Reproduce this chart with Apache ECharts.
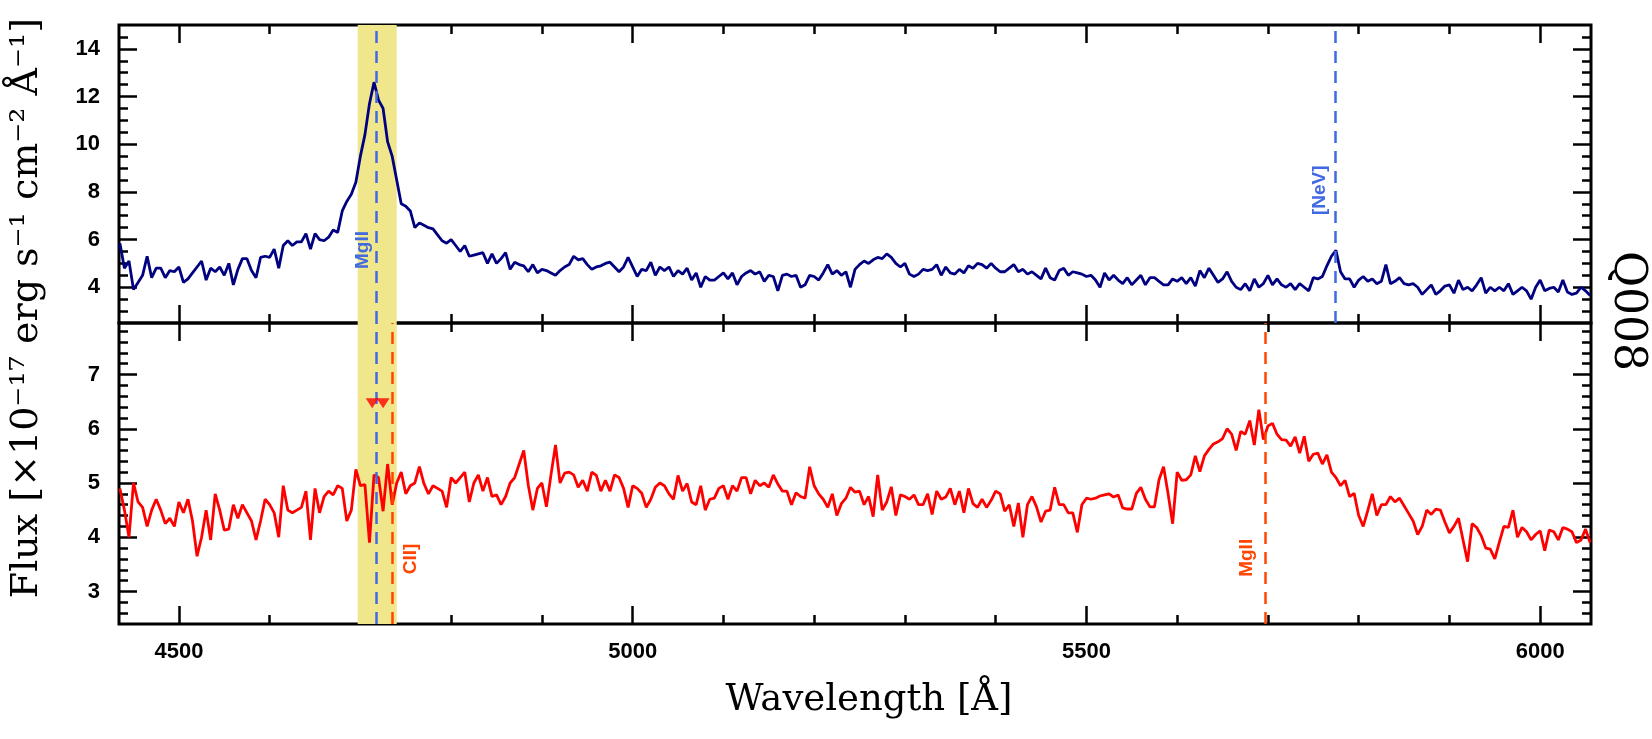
<!DOCTYPE html>
<html>
<head>
<meta charset="utf-8">
<title>Q008</title>
<script src="https://cdn.jsdelivr.net/npm/echarts@6/dist/echarts.min.js"></script>
<style>
  html, body { margin: 0; padding: 0; background: #fff; }
  #chart { width: 1652px; height: 739px; }
</style>
</head>
<body>
<div id="chart"></div>
<script>
// wavelength grid shared by both spectra (Å)
const waveStart = 4435
const waveStep = 5

// upper spectrum (navy), one value per 5 Å from 4435 Å
const fluxUpper = [
  5.84, 4.8, 5.1, 3.9, 4.2, 4.5, 5.3, 4.4, 4.8, 4.8,
  4.4, 4.7, 4.65, 4.85, 4.2, 4.35, 4.6, 4.85, 5.1, 4.3,
  4.8, 4.65, 4.85, 4.5, 5.0, 4.1, 4.75, 5.2, 5.2, 4.7,
  4.4, 5.25, 5.3, 5.25, 5.6, 4.8, 5.75, 5.95, 5.75, 5.9,
  5.9, 6.25, 5.6, 6.25, 6.0, 5.95, 6.1, 6.4, 6.3, 7.2,
  7.6, 7.9, 8.4, 9.5, 10.4, 11.7, 12.6, 11.85, 11.5, 10.1,
  9.5, 8.5, 7.5, 7.4, 7.2, 6.5, 6.7, 6.6, 6.5, 6.45,
  6.2, 5.95, 5.85, 6.0, 5.75, 5.5, 5.75, 5.3, 5.35, 5.4,
  5.45, 5.0, 5.4, 5.0, 5.2, 5.45, 4.75, 5.05, 4.95, 4.9,
  4.65, 4.95, 4.6, 4.75, 4.7, 4.6, 4.5, 4.7, 4.85, 4.95,
  5.3, 5.15, 5.2, 4.95, 4.75, 4.85, 4.9, 5.0, 5.05, 4.85,
  4.65, 4.85, 5.25, 4.85, 4.45, 4.75, 4.7, 5.05, 4.5, 4.85,
  4.7, 4.85, 4.45, 4.7, 4.55, 4.8, 4.3, 4.6, 4.0, 4.45,
  4.3, 4.3, 4.45, 4.6, 4.35, 4.6, 4.1, 4.45, 4.6, 4.7,
  4.55, 4.65, 4.25, 4.5, 4.45, 3.85, 4.5, 4.55, 4.45, 4.5,
  4.0, 4.1, 4.5, 4.45, 4.3, 4.6, 4.95, 4.55, 4.7, 4.5,
  4.65, 4.0, 4.75, 4.95, 5.1, 5.0, 5.15, 5.25, 5.2, 5.4,
  5.25, 5.0, 4.85, 5.0, 4.55, 4.45, 4.55, 4.75, 4.7, 4.75,
  4.95, 4.5, 4.85, 4.6, 4.55, 4.75, 4.6, 4.9, 4.8, 5.0,
  4.95, 4.8, 5.0, 4.8, 4.65, 4.65, 4.8, 4.95, 4.65, 4.75,
  4.55, 4.65, 4.5, 4.35, 4.8, 4.4, 4.3, 4.7, 4.8, 4.5,
  4.65, 4.6, 4.55, 4.45, 4.5, 4.3, 4.0, 4.6, 4.3, 4.5,
  4.3, 4.15, 4.4, 4.1, 4.3, 4.5, 4.1, 4.4, 4.4, 4.25,
  4.1, 4.1, 4.35, 4.25, 4.4, 4.15, 4.4, 4.05, 4.7, 4.4,
  4.8, 4.5, 4.2, 4.35, 4.65, 4.25, 4.0, 3.9, 4.15, 3.85,
  4.35, 4.0, 4.15, 4.5, 4.1, 4.35, 4.1, 4.0, 4.15, 3.9,
  4.15, 4.0, 3.85, 4.4, 4.35, 4.45, 4.9, 5.3, 5.55, 4.65,
  4.35, 4.35, 4.0, 4.3, 4.45, 4.25, 4.35, 4.15, 4.25, 4.95,
  4.15, 4.25, 4.4, 4.15, 4.1, 4.15, 4.0, 3.7, 3.9, 4.1,
  3.7, 3.85, 4.05, 4.1, 3.75, 4.3, 3.9, 4.0, 3.85, 4.1,
  4.4, 3.75, 4.0, 3.85, 4.0, 3.85, 4.15, 3.7, 3.85, 4.0,
  3.85, 3.5, 4.0, 4.3, 3.85, 3.95, 4.0, 3.8, 4.3, 3.8,
  3.7, 3.75, 4.0, 3.85, 3.65
]

// lower spectrum (red), same grid
const fluxLower = [
  4.9, 4.5, 4.0, 5.0, 4.65, 4.55, 4.2, 4.5, 4.7, 4.5,
  4.25, 4.35, 4.2, 4.65, 4.45, 4.7, 4.3, 3.65, 4.0, 4.5,
  3.95, 4.8, 4.5, 4.13, 4.15, 4.6, 4.35, 4.6, 4.45, 4.3,
  3.95, 4.3, 4.7, 4.6, 4.45, 4.0, 4.95, 4.5, 4.45, 4.5,
  4.55, 4.85, 3.95, 4.9, 4.45, 4.75, 4.85, 4.78, 4.95, 4.9,
  4.3, 4.5, 5.25, 4.95, 4.97, 3.9, 5.15, 5.1, 4.48, 5.35,
  4.6, 5.0, 5.2, 4.8, 4.95, 5.0, 5.3, 4.99, 4.8, 4.95,
  4.9, 4.85, 4.55, 5.1, 5.0, 5.1, 5.2, 4.65, 5.0, 5.15,
  4.85, 5.1, 4.75, 4.78, 4.6, 4.75, 5.0, 5.1, 5.35, 5.6,
  4.96, 4.5, 4.9, 5.0, 4.56, 5.15, 5.7, 5.0, 5.18, 5.2,
  5.15, 4.92, 5.05, 4.85, 5.2, 5.14, 4.85, 5.05, 4.85, 5.15,
  5.1, 4.9, 4.55, 4.95, 4.9, 4.81, 4.55, 4.7, 4.92, 5.0,
  4.95, 4.8, 4.7, 5.14, 4.85, 4.99, 4.65, 4.6, 4.95, 4.5,
  4.7, 4.72, 4.9, 4.95, 4.7, 4.95, 4.85, 5.1, 5.1, 4.8,
  5.05, 4.95, 5.0, 4.92, 5.15, 4.98, 4.85, 4.85, 4.6, 4.82,
  4.75, 4.72, 5.3, 4.95, 4.8, 4.7, 4.55, 4.8, 4.4, 4.62,
  4.72, 4.92, 4.83, 4.85, 4.6, 4.75, 4.38, 5.15, 4.5, 4.65,
  4.93, 4.4, 4.78, 4.75, 4.7, 4.78, 4.6, 4.6, 4.8, 4.42,
  4.85, 4.7, 4.74, 4.9, 4.6, 4.85, 4.45, 4.9, 4.62, 4.55,
  4.7, 4.55, 4.68, 4.85, 4.8, 4.48, 4.6, 4.2, 4.63, 4.0,
  4.6, 4.75, 4.56, 4.28, 4.48, 4.5, 4.92, 4.6, 4.6, 4.45,
  4.45, 4.09, 4.6, 4.72, 4.7, 4.72, 4.76, 4.78, 4.8, 4.74,
  4.78, 4.54, 4.52, 4.52, 4.81, 4.92, 4.7, 4.56, 4.56, 5.06,
  5.3, 4.8, 4.25, 5.2, 5.05, 5.06, 5.15, 5.5, 5.21, 5.5,
  5.62, 5.72, 5.76, 5.82, 6.0, 5.9, 5.6, 5.95, 5.9, 6.15,
  5.7, 6.35, 5.8, 6.05, 6.1, 5.9, 5.8, 5.79, 5.68, 5.85,
  5.55, 5.86, 5.4, 5.53, 5.55, 5.35, 5.52, 5.2, 5.1, 4.95,
  5.05, 4.75, 4.81, 4.4, 4.2, 4.49, 4.8, 4.4, 4.6, 4.6,
  4.75, 4.65, 4.72, 4.58, 4.44, 4.3, 4.05, 4.2, 4.5, 4.42,
  4.52, 4.5, 4.28, 4.08, 4.2, 4.35, 3.95, 3.55, 4.25, 4.18,
  4.03, 3.8, 3.78, 3.6, 3.91, 4.2, 4.18, 4.5, 4.0, 4.18,
  4.1, 3.95, 4.05, 4.12, 3.75, 4.13, 4.1, 3.95, 4.18, 4.15,
  4.1, 3.9, 3.95, 4.15, 3.9
]

// axis ranges and ticks
const waveRange = [4434, 6056]
const upperRange = [2.5, 15]
const lowerRange = [2.4, 7.95]
const waveMajorTicks = [4500, 5000, 5500, 6000]
const waveMinorTicks = [4500, 4600, 4700, 4800, 4900, 5000, 5100, 5200, 5300, 5400, 5500, 5600, 5700, 5800, 5900, 6000]
const upperMajorTicks = [4, 6, 8, 10, 12, 14]
const upperMinorTicks = [3, 3.5, 4, 4.5, 5, 5.5, 6, 6.5, 7, 7.5, 8, 8.5, 9, 9.5, 10, 10.5, 11, 11.5, 12, 12.5, 13, 13.5, 14, 14.5]
const lowerMajorTicks = [3, 4, 5, 6, 7]
const lowerMinorTicks = [2.6, 2.8, 3, 3.2, 3.4, 3.6, 3.8, 4, 4.2, 4.4, 4.6, 4.8, 5, 5.2, 5.4, 5.6, 5.8, 6, 6.2, 6.4, 6.6, 6.8, 7, 7.2, 7.4, 7.6, 7.8]

// emission lines
const upperLineWaves = [4717, 5774]
const upperLineNames = ['MgII', '[NeV]']
const lowerBlueWaves = [4717]
const lowerLineWaves = [4735, 5697]
const lowerLineNames = ['CII]', 'MgII']

// shaded window and upper-limit markers
const bandRange = [4697, 4740]
const markerWaves = [4713, 4725]
const markerFlux = [6.47, 6.47]

const BLUE = '#4169e1'
const ORANGE = '#ff4500'
const TICK_FONT = 'Liberation Sans'
const TITLE_FONT = 'DejaVu Serif'

const upperData = fluxUpper.map((f, i) => [waveStart + i * waveStep, f])
const lowerData = fluxLower.map((f, i) => [waveStart + i * waveStep, f])

function tickStyle(length, values) {
  return {
    show: true,
    inside: true,
    length,
    customValues: values,
    lineStyle: { color: '#000', width: 2.5 },
  }
}

function labelStyle(show, values, margin) {
  return {
    show,
    customValues: values,
    margin,
    color: '#000',
    fontFamily: TICK_FONT,
    fontWeight: 'bold',
    fontSize: 22,
    // plain numbers, no thousands separator
    formatter: v => String(v),
  }
}

function waveAxis(gridIndex, position, major, showLabels) {
  return {
    type: 'value',
    gridIndex,
    position,
    min: waveRange[0],
    max: waveRange[1],
    axisLine: { show: false, onZero: false },
    splitLine: { show: false },
    axisTick: major ? tickStyle(18, waveMajorTicks) : tickStyle(9, waveMinorTicks),
    axisLabel: labelStyle(showLabels, waveMajorTicks, 17),
  }
}

function fluxAxis(gridIndex, position, range, majorTicks, minorTicks, major, showLabels) {
  return {
    type: 'value',
    gridIndex,
    position,
    min: range[0],
    max: range[1],
    axisLine: { show: false, onZero: false },
    splitLine: { show: false },
    axisTick: major ? tickStyle(18, majorTicks) : tickStyle(9, minorTicks),
    axisLabel: labelStyle(showLabels, majorTicks, 19),
  }
}

const gridBase = {
  left: 119,
  right: 61,
  show: true,
  borderColor: '#000',
  borderWidth: 3,
  backgroundColor: 'transparent',
  containLabel: false,
  outerBoundsMode: 'none',
}

function bandSeries(xi, yi) {
  return {
    type: 'line',
    xAxisIndex: xi,
    yAxisIndex: yi,
    data: [],
    z: 1,
    silent: true,
    markArea: {
      silent: true,
      itemStyle: { color: '#f0e68c' },
      data: [[{ xAxis: bandRange[0] }, { xAxis: bandRange[1] }]],
    },
  }
}

function dashSeries(xi, yi, waves, color) {
  return {
    type: 'line',
    xAxisIndex: xi,
    yAxisIndex: yi,
    data: [],
    z: 3,
    silent: true,
    markLine: {
      silent: true,
      symbol: ['none', 'none'],
      label: { show: false },
      lineStyle: { color, width: 2.5, type: [12, 8] },
      data: waves.map(w => ({ xAxis: w })),
    },
  }
}

const option = {
  animation: false,
  backgroundColor: '#fff',
  grid: [
    { ...gridBase, top: 25, height: 298 },
    { ...gridBase, top: 323, height: 301 },
  ],
  xAxis: [
    waveAxis(0, 'bottom', true, false),
    waveAxis(0, 'bottom', false, false),
    waveAxis(0, 'top', true, false),
    waveAxis(0, 'top', false, false),
    waveAxis(1, 'bottom', true, true),
    waveAxis(1, 'bottom', false, false),
    waveAxis(1, 'top', true, false),
    waveAxis(1, 'top', false, false),
  ],
  yAxis: [
    fluxAxis(0, 'left', upperRange, upperMajorTicks, upperMinorTicks, true, true),
    fluxAxis(0, 'left', upperRange, upperMajorTicks, upperMinorTicks, false, false),
    fluxAxis(0, 'right', upperRange, upperMajorTicks, upperMinorTicks, true, false),
    fluxAxis(0, 'right', upperRange, upperMajorTicks, upperMinorTicks, false, false),
    fluxAxis(1, 'left', lowerRange, lowerMajorTicks, lowerMinorTicks, true, true),
    fluxAxis(1, 'left', lowerRange, lowerMajorTicks, lowerMinorTicks, false, false),
    fluxAxis(1, 'right', lowerRange, lowerMajorTicks, lowerMinorTicks, true, false),
    fluxAxis(1, 'right', lowerRange, lowerMajorTicks, lowerMinorTicks, false, false),
  ],
  series: [
    {
      type: 'line',
      xAxisIndex: 0,
      yAxisIndex: 0,
      data: upperData,
      showSymbol: false,
      z: 4,
      lineStyle: { color: '#000080', width: 2.8 },
    },
    {
      type: 'line',
      xAxisIndex: 4,
      yAxisIndex: 4,
      data: lowerData,
      showSymbol: false,
      z: 4,
      lineStyle: { color: '#ff0000', width: 2.8 },
    },
    bandSeries(0, 0),
    bandSeries(4, 4),
    dashSeries(0, 0, upperLineWaves, BLUE),
    dashSeries(4, 4, lowerBlueWaves, BLUE),
    dashSeries(4, 4, lowerLineWaves, ORANGE),
    {
      type: 'scatter',
      xAxisIndex: 4,
      yAxisIndex: 4,
      z: 5,
      silent: true,
      symbol: 'triangle',
      symbolRotate: 180,
      symbolSize: [13, 10],
      itemStyle: { color: '#ff0000' },
      data: markerWaves.map((w, i) => [w, markerFlux[i]]),
    },
  ],
}

const chart = echarts.init(document.getElementById('chart'))
chart.setOption(option)

// line name labels, placed next to their dashed lines
const labelSpots = [
  { series: 0, wave: upperLineWaves[0], text: upperLineNames[0], flux: 5.56, dx: -13, color: BLUE },
  { series: 0, wave: upperLineWaves[1], text: upperLineNames[1], flux: 8.07, dx: -15, color: BLUE },
  { series: 1, wave: lowerLineWaves[0], text: lowerLineNames[0], flux: 3.6, dx: 19, color: ORANGE },
  { series: 1, wave: lowerLineWaves[1], text: lowerLineNames[1], flux: 3.62, dx: -18, color: ORANGE },
]

const lineLabels = labelSpots.map(s => {
  const [px, py] = chart.convertToPixel({ seriesIndex: s.series }, [s.wave, s.flux])
  return {
    type: 'text',
    x: px + s.dx,
    y: py,
    rotation: Math.PI / 2,
    z: 10,
    style: {
      text: s.text,
      fill: s.color,
      font: 'bold 19px "Liberation Sans"',
      align: 'center',
      verticalAlign: 'middle',
    },
  }
})

chart.setOption({
  graphic: [
    {
      type: 'text',
      x: 27,
      y: 308,
      rotation: Math.PI / 2,
      style: {
        text: 'Flux [×10⁻¹⁷ erg s⁻¹ cm⁻² Å⁻¹]',
        fill: '#000',
        font: `38px "${TITLE_FONT}"`,
        align: 'center',
        verticalAlign: 'middle',
      },
    },
    {
      type: 'text',
      x: 869,
      y: 700,
      style: {
        text: 'Wavelength [Å]',
        fill: '#000',
        font: `37px "${TITLE_FONT}"`,
        align: 'center',
        verticalAlign: 'middle',
      },
    },
    {
      type: 'text',
      x: 1626,
      y: 311,
      rotation: -Math.PI / 2,
      style: {
        text: 'Q008',
        fill: '#000',
        font: `44px "${TITLE_FONT}"`,
        align: 'center',
        verticalAlign: 'middle',
      },
    },
    ...lineLabels,
  ],
})
</script>
</body>
</html>
